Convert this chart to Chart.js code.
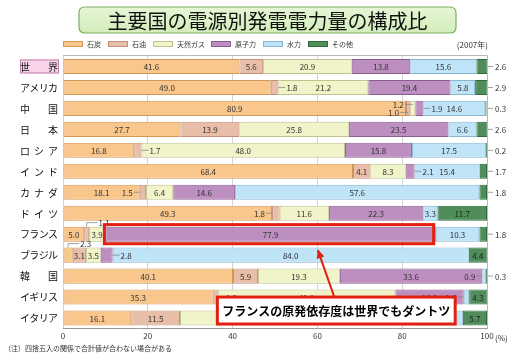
<!DOCTYPE html>
<html><head><meta charset="utf-8">
<script src="https://cdn.jsdelivr.net/npm/chart.js@4"></script>
<style>html,body{margin:0;padding:0;background:#fff}canvas{display:block}</style>
</head><body>
<canvas id="c" width="510" height="355"></canvas>
<script>
// ---- data ----
const countries = ['世界','アメリカ','中国','日本','ロシア','インド','カナダ','ドイツ','フランス','ブラジル','韓国','イギリス','イタリア'];
const seriesNames = ['石炭','石油','天然ガス','原子力','水力','その他'];
const coal    = [41.6, 49.0, 80.9, 27.7, 16.8, 68.4, 18.1, 49.3,  5.0,  2.3, 40.1, 35.3, 16.1];
const oil     = [ 5.6,  1.8,  1.0, 13.9,  1.7,  4.1,  1.5,  1.8,  1.1,  3.1,  5.9,  1.2, 11.5];
const gas     = [20.9, 21.2,  1.2, 25.8, 48.0,  8.3,  6.4, 11.6,  3.9,  3.5, 19.3, 41.9, 55.9];
const nuclear = [13.8, 19.4,  1.9, 23.5, 15.8,  2.1, 14.6, 22.3, 77.9,  2.8, 33.6, 16.1,  0.0];
const hydro   = [15.6,  5.8, 14.6,  6.6, 17.5, 15.4, 57.6,  3.3, 10.3, 84.0,  0.9,  1.3, 10.8];
const other   = [ 2.6,  2.9,  0.3,  2.6,  0.2,  1.7,  1.8, 11.7,  1.8,  4.4,  0.3,  4.3,  5.7];
const xTicks  = [0, 20, 40, 60, 80, 100];
const titleText = '主要国の電源別発電電力量の構成比';
const yearNote = '(2007年)';
const footNote = '（注）四捨五入の関係で合計値が合わない場合がある';
const calloutText = 'フランスの原発依存度は世界でもダントツ';

// ---- styles ----
const series = [coal, oil, gas, nuclear, hydro, other];
const fills   = ['#F9C68C','#E8BEA8','#F1F4C9','#BD8EC0','#BFE4F8','#4F8E5B'];
const borders = ['#D29755','#C0927C','#BFC38E','#8A5D8F','#88B5CF','#2F6B3C'];
// label placement: c=center, r=right leader, l=left leader, u=above, lu/ld=left stacked, o=outside right, n=none
const placement = [
 ['c','c','c','c','c','o'],
 ['c','r','c','c','c','o'],
 ['c','ld','lu','r','c','o'],
 ['c','c','c','c','c','o'],
 ['c','r','c','c','c','o'],
 ['c','c','c','r','c','o'],
 ['c','l','c','c','c','o'],
 ['c','l','c','c','c','c'],
 ['c','u','c','c','c','o'],
 ['u','c','c','r','c','c'],
 ['c','c','c','c','l','o'],
 ['c','r','c','c','l','c'],
 ['c','c','c','n','c','c']
];
const FONT = '"Noto Sans CJK JP", "Noto Sans", sans-serif';

const drawPlugin = {
  id: 'custom',
  afterDatasetsDraw(chart) {
    const ctx = chart.ctx;
    ctx.save();
    ctx.font = '8px ' + FONT;
    ctx.fillStyle = '#333';
    ctx.strokeStyle = '#888';
    ctx.lineWidth = 0.8;
    const ca = chart.chartArea;
    for (let d = 0; d < series.length; d++) {
      const meta = chart.getDatasetMeta(d);
      for (let i = 0; i < countries.length; i++) {
        const mode = placement[i][d];
        if (mode === 'n') continue;
        const el = meta.data[i];
        const p = el.getProps(['x','y','base','height'], true);
        const x0 = Math.min(p.x, p.base), x1 = Math.min(Math.max(p.x, p.base), ca.right);
        const yc = p.y, top = yc - p.height / 2;
        const txt = series[d][i].toFixed(1);
        ctx.textBaseline = 'middle';
        if (mode === 'c') {
          ctx.fillStyle = d === 5 ? '#fff' : '#333';
          if (d === 5) ctx.fillStyle = '#222';
          ctx.textAlign = 'center';
          ctx.fillText(txt, (x0 + x1) / 2, yc + 0.5);
          ctx.fillStyle = '#333';
        } else if (mode === 'r') {
          ctx.beginPath(); ctx.moveTo(x1, yc); ctx.lineTo(x1 + 7, yc); ctx.stroke();
          ctx.textAlign = 'left';
          ctx.fillText(txt, x1 + 8, yc + 0.5);
        } else if (mode === 'l') {
          ctx.beginPath(); ctx.moveTo(x0 - 6, yc); ctx.lineTo(x0, yc); ctx.stroke();
          ctx.textAlign = 'right';
          ctx.fillText(txt, x0 - 7, yc + 0.5);
        } else if (mode === 'lu' || mode === 'ld') {
          const yy = yc + (mode === 'lu' ? -4 : 4);
          const refX = (x0 + x1) / 2;
          ctx.beginPath(); ctx.moveTo(refX - 8, yy); ctx.lineTo(refX, yy); ctx.stroke();
          ctx.textAlign = 'right';
          ctx.fillText(txt, refX - 9, yy + 0.5);
        } else if (mode === 'u') {
          const cx = (x0 + x1) / 2, yy = top - 4;
          ctx.beginPath(); ctx.moveTo(cx, top); ctx.lineTo(cx, yy); ctx.lineTo(cx + 11, yy); ctx.stroke();
          ctx.textAlign = 'left';
          ctx.fillText(txt, cx + 12, yy);
        } else if (mode === 'o') {
          ctx.beginPath(); ctx.moveTo(ca.right + 1, yc); ctx.lineTo(ca.right + 6, yc); ctx.stroke();
          ctx.textAlign = 'left';
          ctx.fillText(txt, ca.right + 8, yc + 0.5);
        }
      }
    }
    ctx.restore();
  },
  afterDraw(chart) {
    const ctx = chart.ctx, ca = chart.chartArea;
    const xs = chart.scales.x, ys = chart.scales.y;
    ctx.save();
    // frame
    ctx.strokeStyle = '#b8b8b8'; ctx.lineWidth = 1;
    ctx.beginPath();
    ctx.moveTo(ca.left, ca.top - 0.5); ctx.lineTo(ca.right + 0.5, ca.top - 0.5); ctx.lineTo(ca.right + 0.5, ca.bottom);
    ctx.stroke();
    // title box
    const tx = 79, ty = 7, tw = 377, th = 26, r = 6;
    ctx.beginPath();
    ctx.moveTo(tx + r, ty); ctx.lineTo(tx + tw - r, ty); ctx.quadraticCurveTo(tx + tw, ty, tx + tw, ty + r);
    ctx.lineTo(tx + tw, ty + th - r); ctx.quadraticCurveTo(tx + tw, ty + th, tx + tw - r, ty + th);
    ctx.lineTo(tx + r, ty + th); ctx.quadraticCurveTo(tx, ty + th, tx, ty + th - r);
    ctx.lineTo(tx, ty + r); ctx.quadraticCurveTo(tx, ty, tx + r, ty); ctx.closePath();
    const g = ctx.createLinearGradient(0, ty, 0, ty + th);
    g.addColorStop(0, '#E6F6D6'); g.addColorStop(1, '#D2EDBA');
    ctx.fillStyle = g; ctx.fill();
    ctx.strokeStyle = '#7DAF5E'; ctx.lineWidth = 1.2; ctx.stroke();
    ctx.fillStyle = '#111'; ctx.font = '20px ' + FONT; ctx.textAlign = 'center'; ctx.textBaseline = 'middle';
    ctx.fillText(titleText, tx + tw / 2, ty + th / 2 + 1);
    // legend
    const legX = [63, 108, 153, 211, 263, 308];
    ctx.font = '7px ' + FONT; ctx.textAlign = 'left'; ctx.textBaseline = 'middle';
    for (let d = 0; d < seriesNames.length; d++) {
      ctx.fillStyle = fills[d]; ctx.fillRect(legX[d], 41, 20, 6);
      ctx.strokeStyle = borders[d]; ctx.lineWidth = 1; ctx.strokeRect(legX[d] + 0.5, 41.5, 19, 5);
      ctx.fillStyle = '#333'; ctx.fillText(seriesNames[d], legX[d] + 24, 44.5);
    }
    ctx.font = '8px ' + FONT; ctx.textAlign = 'right';
    ctx.fillText(yearNote, 488, 45);
    // y labels (distributed)
    for (let i = 0; i < countries.length; i++) {
      const yc = ys.getPixelForValue(i);
      if (i === 0) {
        ctx.fillStyle = '#F9D3EA'; ctx.fillRect(20, yc - 7, 39, 14);
        ctx.strokeStyle = '#C27DA8'; ctx.lineWidth = 1; ctx.strokeRect(20.5, yc - 6.5, 38, 13);
      }
      const chars = Array.from(countries[i]);
      ctx.fillStyle = '#111'; ctx.font = '10px ' + FONT; ctx.textAlign = 'center'; ctx.textBaseline = 'middle';
      const a = 25, b = 53;
      chars.forEach((ch, k) => {
        const x = chars.length === 1 ? (a + b) / 2 : a + (b - a) * k / (chars.length - 1);
        ctx.fillText(ch, x, yc + 0.5);
      });
    }
    // (%)
    ctx.font = '8px ' + FONT; ctx.fillStyle = '#333'; ctx.textAlign = 'left';
    ctx.fillText('(%)', ca.right + 8, ca.bottom + 9);
    // footnote
    ctx.font = '7px ' + FONT; ctx.fillStyle = '#333'; ctx.textAlign = 'left';
    ctx.fillText(footNote, 4, 348);
    // red highlight on France nuclear
    const fi = countries.indexOf('フランス');
    const fe = chart.getDatasetMeta(3).data[fi].getProps(['x','y','base','height'], true);
    ctx.strokeStyle = '#E3200F'; ctx.lineWidth = 3;
    ctx.strokeRect(fe.base - 1, fe.y - fe.height / 2 - 2, (fe.x - fe.base) - 1, fe.height + 4);
    // callout box
    const bx0 = xs.getPixelForValue(36.4), bx1 = xs.getPixelForValue(92.5);
    const by0 = ys.getPixelForValue(11), by1 = ys.getPixelForValue(12) + 6;
    // arrow
    const ax0 = xs.getPixelForValue(64.0), ay0 = by0;
    const ax1 = xs.getPixelForValue(60.1), ay1 = ys.getPixelForValue(fi + 1) - 5;
    ctx.strokeStyle = '#E3200F'; ctx.lineWidth = 2;
    ctx.beginPath(); ctx.moveTo(ax0, ay0); ctx.lineTo(ax1, ay1); ctx.stroke();
    const ang = Math.atan2(ay1 - ay0, ax1 - ax0);
    ctx.fillStyle = '#E3200F';
    ctx.beginPath();
    ctx.moveTo(ax1, ay1 - 1);
    ctx.lineTo(ax1 - 9 * Math.cos(ang - 0.45), ay1 - 9 * Math.sin(ang - 0.45));
    ctx.lineTo(ax1 - 9 * Math.cos(ang + 0.45), ay1 - 9 * Math.sin(ang + 0.45));
    ctx.closePath(); ctx.fill();
    ctx.fillStyle = '#fff'; ctx.fillRect(bx0, by0, bx1 - bx0, by1 - by0);
    ctx.strokeStyle = '#E3200F'; ctx.lineWidth = 3; ctx.strokeRect(bx0, by0, bx1 - bx0, by1 - by0);
    ctx.fillStyle = '#000'; ctx.font = 'bold 12px ' + FONT; ctx.textAlign = 'center'; ctx.textBaseline = 'middle';
    ctx.fillText(calloutText, (bx0 + bx1) / 2, (by0 + by1) / 2 + 0.5);
    ctx.restore();
  }
};

new Chart(document.getElementById('c'), {
  type: 'bar',
  data: {
    labels: countries,
    datasets: series.map((s, d) => ({
      label: seriesNames[d], data: s,
      backgroundColor: fills[d], borderColor: borders[d], borderWidth: 1, borderSkipped: false,
      barPercentage: 0.72, categoryPercentage: 1.0
    }))
  },
  options: {
    indexAxis: 'y', responsive: false, animation: false, devicePixelRatio: 1,
    layout: { padding: { left: 63, right: 23, top: 56, bottom: 6.5 } },
    plugins: { legend: { display: false }, tooltip: { enabled: false }, title: { display: false } },
    scales: {
      x: {
        stacked: true, min: 0, max: 100,
        afterBuildTicks(s) { s.ticks = xTicks.map(v => ({ value: v })); },
        afterFit(s) { s.height = 20; },
        ticks: { font: { size: 8, family: FONT }, color: '#333', padding: 3, maxRotation: 0 },
        grid: { color: '#d4d4d4', lineWidth: 1, drawTicks: false },
        border: { color: '#999' }
      },
      y: {
        stacked: true,
        afterFit(s) { s.width = 0; },
        ticks: { display: false },
        grid: { display: false },
        border: { display: false }
      }
    }
  },
  plugins: [drawPlugin]
});
</script>
</body></html>
